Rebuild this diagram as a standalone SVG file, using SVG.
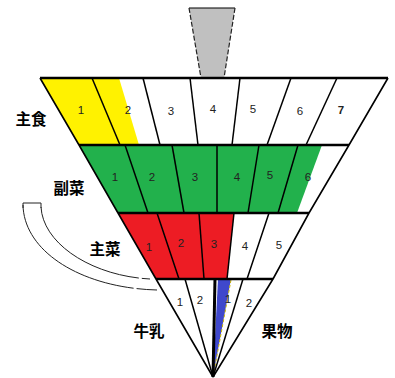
<svg xmlns="http://www.w3.org/2000/svg" width="395" height="378" viewBox="0 0 395 378">
<style>
.edge{stroke:#000;stroke-width:1.6;fill:none;stroke-linejoin:round}
.row{stroke:#000;stroke-width:2.6;fill:none}
.div{stroke:#000;stroke-width:1.5;fill:none}
.num{font-family:"Liberation Sans",Arial,sans-serif;font-size:11.5px;fill:#222;text-anchor:middle}
.jp{font-family:"Noto Sans CJK JP","Noto Sans",sans-serif;font-size:15.5px;font-weight:bold;fill:#000;text-anchor:middle}
.arc{stroke:#222;stroke-width:1;fill:none}
</style>
<rect width="395" height="378" fill="#fff"/>
<g id="handle">
<polygon points="189,8 235,8 224,78 201,78" fill="#c0c0c0"/>
<line x1="189" y1="8" x2="235" y2="8" stroke="#000" stroke-width="1.2"/>
<line x1="189" y1="8" x2="201" y2="78" stroke="#222" stroke-width="1.2" stroke-dasharray="5 2"/>
<line x1="235" y1="8" x2="224" y2="78" stroke="#222" stroke-width="1.2" stroke-dasharray="5 2"/>
</g>
<g id="shushoku">
<polygon points="40,78 119,78 139,145 79,145" fill="#fff200"/>
<line class="div" x1="92" y1="78" x2="120" y2="145"/>
<line class="div" x1="143" y1="78" x2="160" y2="145"/>
<line class="div" x1="190" y1="78" x2="198" y2="145"/>
<line class="div" x1="240" y1="78" x2="232" y2="145"/>
<line class="div" x1="291" y1="78" x2="267" y2="145"/>
<line class="div" x1="337" y1="78" x2="306" y2="145"/>
<text class="num" x="81" y="114">1</text>
<text class="num" x="128" y="114">2</text>
<text class="num" x="171" y="115">3</text>
<text class="num" x="213" y="113">4</text>
<text class="num" x="253" y="113">5</text>
<text class="num" x="300" y="115">6</text>
<text class="num" x="341" y="114" font-weight="bold" font-size="12.5px">7</text>
<text class="jp" x="31" y="125">主食</text>
</g>
<g id="fukusai">
<polygon points="79,145 322,145 297,213 118,213" fill="#22b14c"/>
<line class="div" x1="125" y1="145" x2="148" y2="213"/>
<line class="div" x1="172" y1="145" x2="184" y2="213"/>
<line class="div" x1="217" y1="145" x2="217" y2="213"/>
<line class="div" x1="259" y1="145" x2="248" y2="213"/>
<line class="div" x1="298" y1="145" x2="278" y2="213"/>
<text class="num" x="115" y="181">1</text>
<text class="num" x="152" y="181">2</text>
<text class="num" x="195" y="181">3</text>
<text class="num" x="237" y="181">4</text>
<text class="num" x="270" y="179">5</text>
<text class="num" x="308" y="181" fill="#666">6</text>
<text class="jp" x="69" y="194">副菜</text>
</g>
<g id="shusai">
<polygon points="118,213 234,213 227,279 156,279" fill="#ed1c24"/>
<line class="div" x1="157" y1="213" x2="179" y2="279"/>
<line class="div" x1="199" y1="213" x2="204" y2="279"/>
<line class="div" x1="234" y1="213" x2="227" y2="279"/>
<line class="div" x1="269" y1="213" x2="247" y2="279"/>
<text class="num" x="149" y="251">1</text>
<text class="num" x="181" y="247">2</text>
<text class="num" x="214" y="248">3</text>
<text class="num" x="245" y="250">4</text>
<text class="num" x="279" y="249">5</text>
<text class="jp" x="105" y="255">主菜</text>
</g>
<g id="gyunyu-kudamono">
<polygon points="218,279 231,279 213,377" fill="#3f48cc"/>
<line x1="231" y1="280" x2="213" y2="377" stroke="#c8b400" stroke-width="1" stroke-dasharray="3 2"/>
<line class="div" x1="185" y1="279" x2="213" y2="377"/>
<line class="div" x1="243" y1="279" x2="213" y2="377"/>
<line x1="215" y1="279" x2="213" y2="377" stroke="#000" stroke-width="3"/>
<text class="num" x="180" y="306">1</text>
<text class="num" x="200" y="304">2</text>
<text class="num" x="228" y="303">1</text>
<text class="num" x="249" y="307">2</text>
<text class="jp" x="149" y="337">牛乳</text>
<text class="jp" x="277" y="337">果物</text>
</g>
<g id="frame">
<polyline class="edge" points="40,78 79,145 118,213 156,279 213,377"/>
<polyline class="edge" points="388,78 349,145 309,213 273,279 213,377"/>
<line class="row" x1="40" y1="78" x2="388" y2="78"/>
<line class="row" x1="79" y1="145" x2="349" y2="145"/>
<line class="row" x1="118" y1="213" x2="309" y2="213"/>
<line class="row" x1="156" y1="279" x2="273" y2="279"/>
</g>
<g id="connectors">
<path class="arc" d="M23,208 V203 H41 V208"/>
<path class="arc" d="M23,205 C24,252 82,288 157,290" stroke-dasharray="150 3 40 3"/>
<path class="arc" d="M41,207 C43,244 92,276 150,279" stroke-dasharray="130 3 30 3"/>
</g>
</svg>
